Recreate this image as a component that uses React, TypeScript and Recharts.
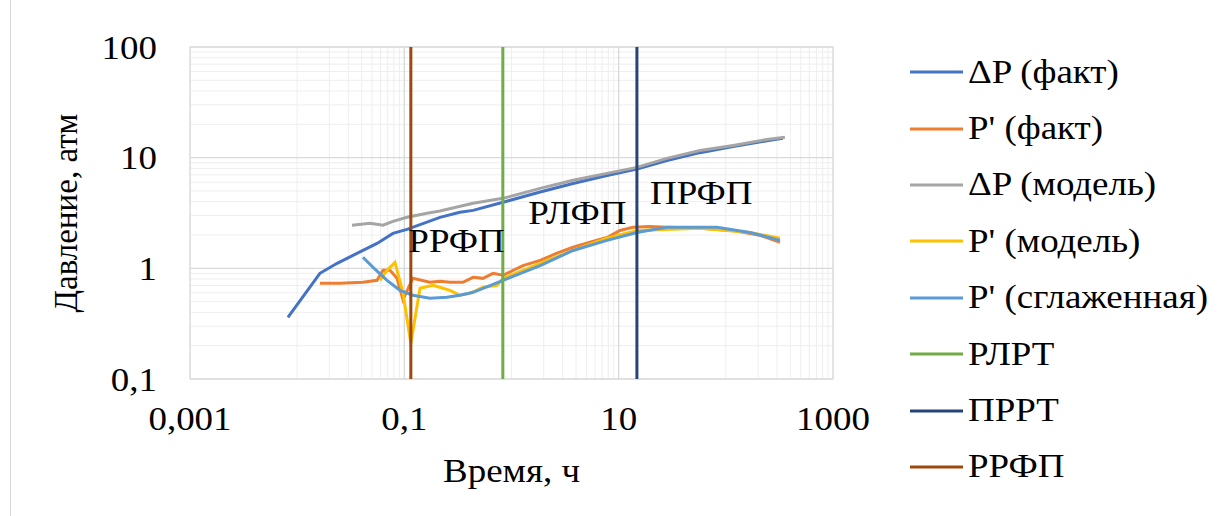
import React from 'react';
import { LineChart, Line, XAxis, YAxis, CartesianGrid, Legend, ReferenceDot } from 'recharts';

const FONT = 'Liberation Serif';
const FS = 33;
const SX = 1.12;

// ---- data ----
const dpFactX = [0.0082, 0.0163, 0.0236, 0.0332, 0.0556, 0.0783, 0.106, 0.215, 0.33, 0.438, 0.834, 1.85, 3.75, 7.78, 14.8, 28.2, 57.4, 117, 242, 341];
const dpFactY = [0.361, 0.902, 1.11, 1.31, 1.68, 2.07, 2.25, 2.89, 3.21, 3.34, 3.95, 4.9, 5.85, 6.9, 7.9, 9.4, 11.1, 12.6, 14.2, 15.0];

const dpModelX = [0.0325, 0.0479, 0.0632, 0.0783, 0.106, 0.163, 0.215, 0.438, 0.834, 1.85, 3.75, 7.78, 14.8, 28.2, 57.4, 117, 242, 356];
const dpModelY = [2.45, 2.55, 2.45, 2.66, 2.89, 3.14, 3.3, 3.87, 4.29, 5.28, 6.24, 7.21, 8.17, 9.85, 11.6, 12.9, 14.6, 15.3];

const dFactX = [0.0163, 0.0251, 0.0411, 0.0556, 0.0632, 0.0735, 0.0855, 0.0971, 0.12, 0.173, 0.215, 0.267, 0.352, 0.438, 0.542, 0.672, 0.834, 1.28, 1.85, 2.66, 3.75, 5.4, 7.78, 10.3, 13.6, 19.6, 28.2, 57.4, 117, 208, 320];
const dFactY = [0.732, 0.732, 0.748, 0.779, 0.959, 0.959, 0.812, 0.52, 0.812, 0.748, 0.763, 0.748, 0.748, 0.829, 0.812, 0.901, 0.865, 1.06, 1.18, 1.37, 1.55, 1.72, 1.9, 2.2, 2.35, 2.39, 2.35, 2.3, 2.2, 1.99, 1.72];

const dModelX = [0.0593, 0.0689, 0.0818, 0.0971, 0.115, 0.14, 0.185, 0.23, 0.267, 0.33, 0.41, 0.542, 0.733, 0.834, 1.85, 3.75, 7.78, 14.8, 57.4, 168, 320];
const dModelY = [0.779, 0.959, 1.13, 0.6, 0.21, 0.66, 0.702, 0.66, 0.633, 0.571, 0.594, 0.674, 0.702, 0.81, 1.11, 1.45, 1.87, 2.2, 2.3, 2.11, 1.87];

const dSmoothX = [0.0411, 0.0511, 0.0689, 0.0912, 0.12, 0.173, 0.25, 0.33, 0.438, 0.834, 1.85, 3.75, 7.78, 14.8, 28.2, 82.6, 168, 320];
const dSmoothY = [1.26, 1.02, 0.779, 0.633, 0.571, 0.536, 0.547, 0.571, 0.607, 0.779, 1.06, 1.45, 1.79, 2.11, 2.35, 2.35, 2.11, 1.79];

const rlrtX = 0.83;
const prrtX = 14.8;
const rrfpX = 0.115;
const yRange = [0.1, 100];

const xMajorTicks = [0.001, 0.1, 10, 1000];
const xMinorTicks = [0.01, 0.02, 0.03, 0.04, 0.05, 0.06, 0.07, 0.08, 0.09, 1, 2, 3, 4, 5, 6, 7, 8, 9, 100, 200, 300, 400, 500, 600, 700, 800, 900];
const yMajorTicks = [0.1, 1, 10, 100];
const yMinorTicks = [0.2, 0.3, 0.4, 0.5, 0.6, 0.7, 0.8, 0.9, 2, 3, 4, 5, 6, 7, 8, 9, 20, 30, 40, 50, 60, 70, 80, 90];

const annotations = [
  { text: 'РРФП', x: 0.109, y: 1.79 },
  { text: 'РЛФП', x: 1.43, y: 3.17 },
  { text: 'ПРФП', x: 19.6, y: 4.81 },
];

const toPts = (xs: number[], ys: number[]) => xs.map((x, i) => ({ x, y: ys[i] }));
const vLine = (x: number) => yRange.map((y) => ({ x, y }));

const fmt = (v: number) => String(v).replace('.', ',');

const series = [
  { name: 'ΔP (факт)', data: toPts(dpFactX, dpFactY), color: '#4472C4' },
  { name: "P' (факт)", data: toPts(dFactX, dFactY), color: '#ED7D31' },
  { name: 'ΔP (модель)', data: toPts(dpModelX, dpModelY), color: '#A5A5A5' },
  { name: "P' (модель)", data: toPts(dModelX, dModelY), color: '#FFC000' },
  { name: "P' (сглаженная)", data: toPts(dSmoothX, dSmoothY), color: '#5B9BD5' },
  { name: 'РЛРТ', data: vLine(rlrtX), color: '#70AD47' },
  { name: 'ПРРТ', data: vLine(prrtX), color: '#264478' },
  { name: 'РРФП', data: vLine(rrfpX), color: '#9E480E' },
];
const seriesOrder = series.map((s) => s.name);

const textStyle = { fontFamily: FONT, fontSize: FS, fill: '#000' } as const;

const SText = (props: any) => {
  const { x, y, anchor, dy, children, rotate } = props;
  const tr = rotate ? `translate(${x},${y}) rotate(${rotate})` : `translate(${x},${y}) scale(${SX},1)`;
  return (
    <text x={0} y={0} dy={dy} transform={tr} textAnchor={anchor} fontFamily={FONT} fontSize={FS} fill="#000" style={textStyle}>
      {children}
    </text>
  );
};

const XTick = (props: any) => (
  <SText x={props.x} y={props.y} dy="0.71em" anchor="middle">
    {fmt(props.payload.value)}
  </SText>
);

const YTick = (props: any) => (
  <SText x={props.x} y={props.y} dy="0.355em" anchor="end">
    {fmt(props.payload.value)}
  </SText>
);

const renderLegend = (props: any) => {
  const payload = [...(props.payload || [])].sort(
    (a: any, b: any) => seriesOrder.indexOf(a.value) - seriesOrder.indexOf(b.value)
  );
  return (
    <div style={{ fontFamily: FONT, fontSize: FS, color: '#000', lineHeight: 1 }}>
      {payload.map((p: any, i: number) => (
        <div key={i} style={{ display: 'flex', alignItems: 'center', height: 56.4, whiteSpace: 'nowrap' }}>
          <svg width={58} height={6} style={{ flex: 'none' }}>
            <line x1={0} y1={3} x2={53} y2={3} stroke={p.color} strokeWidth={3} />
          </svg>
          <span style={{ display: 'inline-block', transform: `scaleX(${SX})`, transformOrigin: 'left center', fontFamily: FONT }}>
            {p.value}
          </span>
        </div>
      ))}
    </div>
  );
};

const XLabel = (props: any) => {
  const vb = props.viewBox || { x: 190, y: 379, width: 643, height: 100 };
  return (
    <SText x={vb.x + vb.width / 2} y={vb.y + 91} dy="0.35em" anchor="middle">
      Время, ч
    </SText>
  );
};

const YLabel = (props: any) => {
  const vb = props.viewBox || { x: 0, y: 47, width: 190, height: 332 };
  return (
    <SText x={vb.x + 65} y={vb.y + vb.height / 2} dy="0.35em" anchor="middle" rotate={-90}>
      Давление, атм
    </SText>
  );
};

export default function App() {
  return (
    <div style={{ position: 'absolute', left: 0, top: 0, width: 1226, height: 516, background: '#fff', overflow: 'hidden' }}>
      <div style={{ position: 'absolute', left: 10, top: 0, width: 1, height: 516, background: '#d9d9d9' }} />
      <LineChart width={1226} height={516} margin={{ top: 47, right: 393, bottom: 37, left: 0 }}>
        <XAxis xAxisId="minor" dataKey="x" type="number" scale="log" domain={[0.001, 1000]} ticks={xMinorTicks} interval={0} allowDataOverflow hide />
        <YAxis yAxisId="minor" type="number" scale="log" domain={[0.1, 100]} ticks={yMinorTicks} interval={0} allowDataOverflow hide />
        <CartesianGrid xAxisId="minor" yAxisId="minor" stroke="#eeeeee" strokeWidth={1} />
        <XAxis
          xAxisId="main"
          dataKey="x"
          type="number"
          scale="log"
          domain={[0.001, 1000]}
          ticks={xMajorTicks}
          interval={0}
          allowDataOverflow
          height={100}
          axisLine={false}
          tickLine={false}
          tickSize={0}
          tickMargin={28}
          tick={<XTick />}
          label={<XLabel />}
        />
        <YAxis
          yAxisId="main"
          type="number"
          scale="log"
          domain={[0.1, 100]}
          ticks={yMajorTicks}
          interval={0}
          allowDataOverflow
          width={190}
          axisLine={false}
          tickLine={false}
          tickSize={0}
          tickMargin={33}
          tick={<YTick />}
          label={<YLabel />}
        />
        <CartesianGrid xAxisId="main" yAxisId="main" stroke="#d9d9d9" strokeWidth={1.3} />
        {series.map((s) => (
          <Line
            key={s.name}
            xAxisId="main"
            yAxisId="main"
            data={s.data}
            dataKey="y"
            name={s.name}
            type="linear"
            stroke={s.color}
            strokeWidth={3}
            dot={false}
            activeDot={false}
            isAnimationActive={false}
          />
        ))}
        {annotations.map((a) => (
          <ReferenceDot
            key={a.text}
            xAxisId="main"
            yAxisId="main"
            x={a.x}
            y={a.y}
            r={0}
            shape={(p: any) => (
              <SText x={p.cx} y={p.cy} dy="0.35em" anchor="start">
                {a.text}
              </SText>
            )}
          />
        ))}
        <Legend
          layout="vertical"
          align="center"
          verticalAlign="middle"
          content={renderLegend}
          wrapperStyle={{ left: 910, top: 44, width: 316 }}
        />
      </LineChart>
    </div>
  );
}
